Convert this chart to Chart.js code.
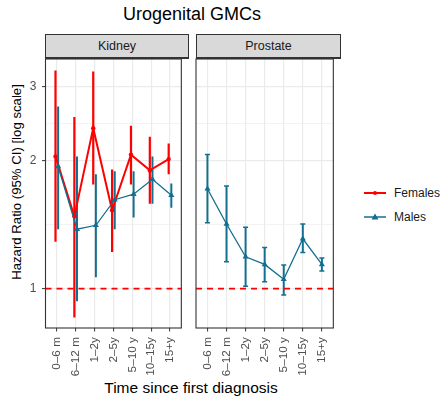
<!DOCTYPE html>
<html><head><meta charset="utf-8">
<script src="https://cdn.jsdelivr.net/npm/chart.js@4.4.0/dist/chart.umd.min.js"></script>
<style>
body{margin:0;background:#fff;width:444px;height:401px;overflow:hidden;position:relative;font-family:"Liberation Sans",Arial,sans-serif;}
canvas{position:absolute;top:0;}
.strip{position:absolute;top:34px;height:25px;box-sizing:border-box;background:#d9d9d9;border:1px solid #333;border-bottom:2px solid #333;display:flex;align-items:center;justify-content:center;font-size:12.5px;color:#1a1a1a;}
.txt{position:absolute;white-space:nowrap;color:#000;}
.leg{position:absolute;left:364px;display:flex;align-items:center;font-size:12px;color:#1a1a1a;height:16px;}
.leg span{margin-left:8px;}
</style></head>
<body>
<div class="txt" style="left:0;width:384px;text-align:center;top:4px;font-size:18px;line-height:20px;">Urogenital GMCs</div>
<div class="txt" style="left:-133px;top:172px;width:300px;height:20px;line-height:20px;text-align:center;font-size:13.2px;transform:rotate(-90deg);">Hazard Ratio (95% CI) [log scale]</div>
<div class="txt" style="left:41px;width:300px;text-align:center;top:379px;font-size:15.5px;line-height:18px;">Time since first diagnosis</div>
<div class="strip" style="left:45px;width:144px;">Kidney</div>
<div class="strip" style="left:196px;width:145px;">Prostate</div>
<canvas id="ca" width="190" height="401" style="left:0"></canvas>
<canvas id="cb" width="152" height="401" style="left:190px"></canvas>
<div class="leg" style="top:185px;"><svg width="22" height="10"><line x1="0" y1="5" x2="22" y2="5" stroke="#ff0000" stroke-width="2"/><circle cx="11" cy="5" r="2" fill="#ff0000"/></svg><span>Females</span></div>
<div class="leg" style="top:209px;"><svg width="22" height="10"><line x1="0" y1="5" x2="22" y2="5" stroke="#136f8f" stroke-width="1.5"/><polygon points="11,1.5 14.5,7.5 7.5,7.5" fill="#136f8f"/></svg><span>Males</span></div>
<script>
const categories = ['0\u20136 m','6\u201312 m','1\u20132y','2\u20135y','5\u201310 y','10\u201315y','15+y'];
const yTickValues = [1, 2, 3];
const yMinorValues = [1.414, 2.449];

const kidneyF_hr = [2.05, 1.48, 2.39, 1.53, 2.07, 1.90, 2.02];
const kidneyF_lo = [1.29, 0.854, 1.76, 1.22, 1.76, 1.585, 1.86];
const kidneyF_hi = [3.27, 2.54, 3.25, 1.91, 2.42, 2.28, 2.20];

const kidneyM_hr = [1.94, 1.38, 1.41, 1.62, 1.67, 1.81, 1.66];
const kidneyM_lo = [1.38, 0.933, 1.063, 1.38, 1.47, 1.585, 1.55];
const kidneyM_hi = [2.69, 2.05, 1.86, 1.89, 1.89, 2.05, 1.77];

const prostateM_hr = [1.72, 1.42, 1.188, 1.14, 1.052, 1.31, 1.14];
const prostateM_lo = [1.43, 1.156, 1.013, 1.037, 0.966, 1.217, 1.10];
const prostateM_hi = [2.07, 1.745, 1.396, 1.25, 1.137, 1.42, 1.18];

const refValue = 1;

const RED = '#ff0000', BLUE = '#136f8f';
const FONT = '"Liberation Sans", Arial, sans-serif';
Chart.defaults.font.family = FONT;

function pts(vals, d){ return vals.map((v,i)=>({x:i+d, y:v})); }
function errs(lo, hi, d){
  const out = [];
  lo.forEach((l,i)=>{ out.push({x:i+d,y:l},{x:i+d,y:hi[i]},{x:i+d,y:null}); });
  return out;
}

const panelBorder = {id:'panelBorder', afterDatasetsDraw(chart){
  const {ctx, chartArea:a} = chart;
  ctx.save(); ctx.strokeStyle='#333'; ctx.lineWidth=1.1;
  ctx.strokeRect(a.left, a.top, a.right-a.left, a.bottom-a.top);
  ctx.restore();
}};

function makeOptions(showY, padLeft){
  return {
    responsive:false, animation:false, devicePixelRatio:1,
    layout:{padding:{top:59,left:padLeft,right:2,bottom:0}},
    plugins:{legend:{display:false}, tooltip:{enabled:false}},
    scales:{
      x:{type:'linear', min:-0.6, max:6.6,
        afterBuildTicks(s){ s.ticks = categories.map((c,i)=>({value:i})); },
        afterFit(s){ s.height = 73; },
        ticks:{autoSkip:false, minRotation:90, maxRotation:90, padding:5.5, color:'#4d4d4d', font:{size:11.8},
          callback:(v)=> categories[Math.round(v)] ?? ''},
        grid:{color:'#ebebeb', lineWidth:1.2, tickColor:'#333', tickLength:3.5, tickWidth:1},
        border:{display:false}
      },
      y:{type:'logarithmic', min:0.807, max:3.48,
        afterBuildTicks(s){ s.ticks = yTickValues.concat(yMinorValues).map(v=>({value:v})); },
        afterFit(s){ s.width = showY ? 45.5 : 0; },
        ticks:{display:showY, padding:5.5, color:'#4d4d4d', font:{size:12},
          callback:(v)=> yTickValues.includes(v) ? String(v) : ''},
        grid:{drawTicks:showY,
          color:'#ebebeb',
          lineWidth:(c)=> (c.tick && yMinorValues.includes(c.tick.value)) ? 0.6 : 1.2,
          tickColor:(c)=> (c.tick && yMinorValues.includes(c.tick.value)) ? 'rgba(0,0,0,0)' : '#333',
          tickLength:3.5, tickWidth:1},
        border:{display:false}
      }
    }
  };
}

function refLine(){
  return {type:'line', data:[{x:-0.6,y:refValue},{x:6.6,y:refValue}], borderColor:RED, borderWidth:1.8,
    borderDash:[6,5], pointRadius:0, order:0};
}

new Chart(document.getElementById('ca'), {
  type:'line',
  data:{datasets:[
    refLine(),
    {data:pts(kidneyM_hr,0.07), borderColor:BLUE, borderWidth:1.3, pointStyle:'triangle', pointRadius:3.5,
      pointBackgroundColor:BLUE, pointBorderWidth:0, order:1},
    {data:pts(kidneyF_hr,-0.07), borderColor:RED, borderWidth:2, pointStyle:'circle', pointRadius:2.2,
      pointBackgroundColor:RED, pointBorderWidth:0, order:2},
    {data:errs(kidneyM_lo,kidneyM_hi,0.07), borderColor:BLUE, borderWidth:2, pointRadius:0, spanGaps:false, order:3},
    {data:errs(kidneyF_lo,kidneyF_hi,-0.07), borderColor:RED, borderWidth:2.2, pointRadius:0, spanGaps:false, order:4}
  ]},
  options:makeOptions(true, 0),
  plugins:[panelBorder]
});

new Chart(document.getElementById('cb'), {
  type:'line',
  data:{datasets:[
    refLine(),
    {data:pts(prostateM_hr,0), borderColor:BLUE, borderWidth:1.3, pointStyle:'triangle', pointRadius:3.5,
      pointBackgroundColor:BLUE, pointBorderWidth:0, order:1},
    {data:errs(prostateM_lo,prostateM_hi,0), borderColor:BLUE, borderWidth:2, spanGaps:false, order:3,
      pointStyle:'line', pointRadius:(c)=> (c.raw && c.raw.y!=null) ? 2.5 : 0, pointBorderColor:BLUE, pointBorderWidth:1.5}
  ]},
  options:makeOptions(false, 6),
  plugins:[panelBorder]
});
</script>
</body></html>
